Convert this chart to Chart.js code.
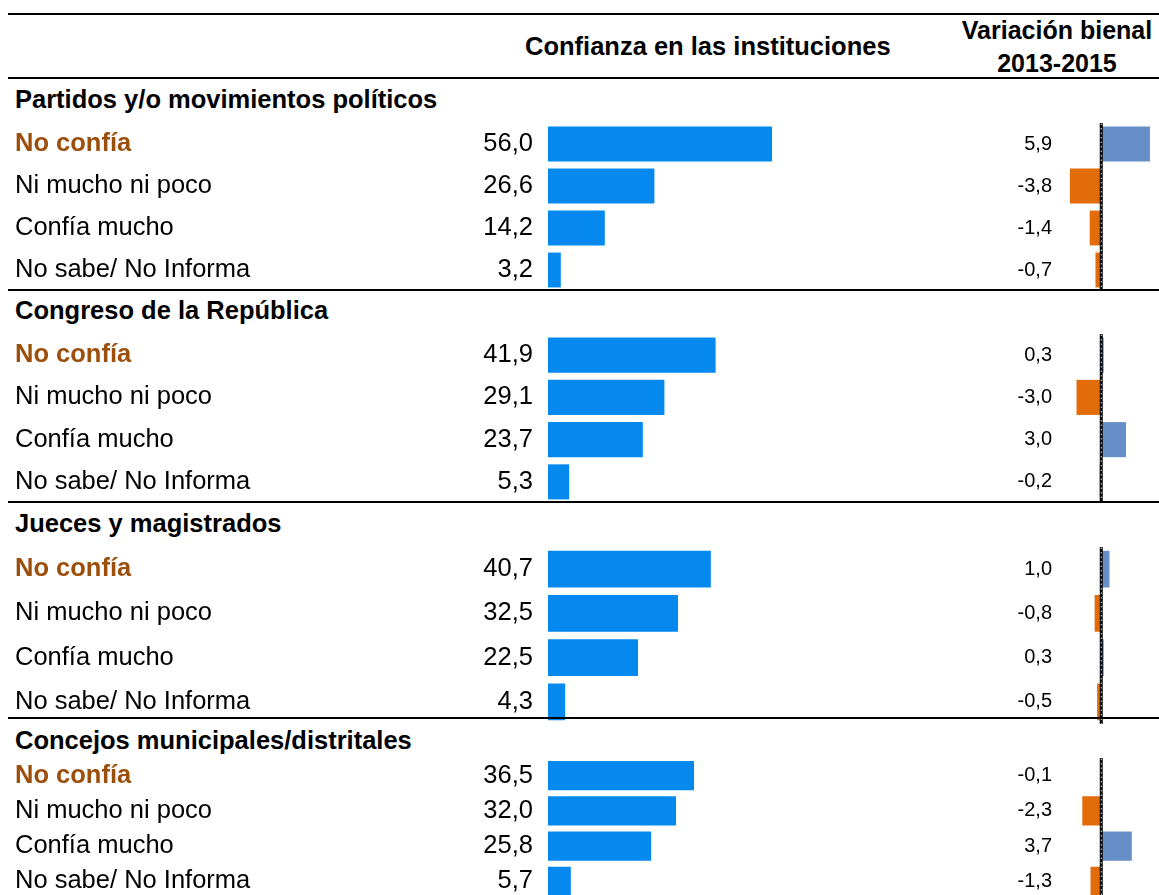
<!DOCTYPE html>
<html lang="es">
<head>
  <meta charset="UTF-8">
  <title>Confianza en las instituciones</title>
  <script src="https://cdn.jsdelivr.net/npm/chart.js"></script>
  <style>
    body { margin: 0; background: #fff; overflow: hidden; }
    #wrap { position: relative; width: 1159px; height: 895px; font-family: "Liberation Sans", Arial, sans-serif; color: #000; }
    .rule { position: absolute; left: 8px; right: 0; height: 2px; background: #000; }
    .txt { position: absolute; white-space: nowrap; line-height: 28px; }
    .grp { font-weight: bold; font-size: 25.5px; left: 15px; }
    canvas { position: absolute; }
  </style>
</head>
<body>
  <div id="wrap">
    <div class="rule" style="top:13px"></div>
    <div class="rule" style="top:77px"></div>
    <div class="txt" style="left:525px;top:32px;font-size:25.5px;font-weight:bold">Confianza en las instituciones</div>
    <div class="txt" style="left:955px;top:14px;width:204px;text-align:center;font-size:25px;font-weight:bold;line-height:33px">Variación bienal<br>2013-2015</div>
  </div>

  <script>
    // Datos
    const categorias = ['No confía', 'Ni mucho ni poco', 'Confía mucho', 'No sabe/ No Informa'];
    const instituciones = ['Partidos y/o movimientos políticos', 'Congreso de la República', 'Jueces y magistrados', 'Concejos municipales/distritales'];

    const confPartidos = [56.0, 26.6, 14.2, 3.2];
    const confCongreso = [41.9, 29.1, 23.7, 5.3];
    const confJueces = [40.7, 32.5, 22.5, 4.3];
    const confConcejos = [36.5, 32.0, 25.8, 5.7];

    const varPartidos = [5.9, -3.8, -1.4, -0.7];
    const varCongreso = [0.3, -3.0, 3.0, -0.2];
    const varJueces = [1.0, -0.8, 0.3, -0.5];
    const varConcejos = [-0.1, -2.3, 3.7, -1.3];

    const confianza = [confPartidos, confCongreso, confJueces, confConcejos];
    const variacion = [varPartidos, varCongreso, varJueces, varConcejos];

    // layout de cada bloque (posición del encabezado y del área de barras)
    const bloques = [
      { header: 85, rule: null, top: 123, height: 168 },
      { header: 296, rule: 289, top: 334, height: 169 },
      { header: 509, rule: 501, top: 547, height: 177 },
      { header: 726, rule: 717, top: 758, height: 141 }
    ];

    Chart.defaults.font.family = '"Liberation Sans", Arial, sans-serif';
    Chart.defaults.color = '#000';

    const fmt = v => v.toFixed(1).replace('.', ',');

    // etiquetas de valor a la izquierda de cada barra
    const valueLabels = {
      id: 'valueLabels',
      afterDatasetsDraw(chart, args, opts) {
        const { ctx, chartArea } = chart;
        const meta = chart.getDatasetMeta(0);
        const data = chart.data.datasets[0].data;
        ctx.save();
        ctx.font = opts.size + 'px "Liberation Sans", Arial, sans-serif';
        ctx.fillStyle = '#000';
        ctx.textAlign = 'right';
        ctx.textBaseline = 'middle';
        meta.data.forEach((bar, i) => {
          ctx.fillText(fmt(data[i]), chartArea.left - opts.gap, bar.y);
        });
        ctx.restore();
      }
    };

    // línea del cero en las variaciones
    const zeroLine = {
      id: 'zeroLine',
      afterDatasetsDraw(chart, args, opts) {
        if (!opts.show) return;
        const { ctx, chartArea, scales } = chart;
        const x = scales.x.getPixelForValue(0);
        ctx.save();
        ctx.strokeStyle = '#000';
        ctx.lineWidth = 3;
        ctx.beginPath();
        ctx.moveTo(x, chartArea.top - 4);
        ctx.lineTo(x, chartArea.bottom);
        ctx.stroke();
        ctx.strokeStyle = '#ddd';
        ctx.lineWidth = 1;
        ctx.setLineDash([1.5, 3]);
        ctx.beginPath();
        ctx.moveTo(x, chartArea.top - 4);
        ctx.lineTo(x, chartArea.bottom);
        ctx.stroke();
        ctx.restore();
      }
    };

    const wrap = document.getElementById('wrap');

    function addCanvas(left, top, w, h) {
      const c = document.createElement('canvas');
      c.width = w; c.height = h;
      c.style.left = left + 'px';
      c.style.top = top + 'px';
      wrap.appendChild(c);
      return c;
    }

    bloques.forEach((b, g) => {
      if (b.rule !== null) {
        const r = document.createElement('div');
        r.className = 'rule';
        r.style.top = b.rule + 'px';
        wrap.appendChild(r);
      }
      const h = document.createElement('div');
      h.className = 'txt grp';
      h.style.top = b.header + 'px';
      h.textContent = instituciones[g];
      wrap.appendChild(h);

      // barras de confianza
      new Chart(addCanvas(0, b.top, 960, b.height), {
        type: 'bar',
        data: {
          labels: categorias,
          datasets: [{
            data: confianza[g],
            backgroundColor: '#0589ee',
            barPercentage: 0.83,
            categoryPercentage: 1
          }]
        },
        options: {
          indexAxis: 'y',
          responsive: false,
          animation: false,
          layout: { padding: { left: 15, right: 12, top: 0, bottom: 0 } },
          plugins: {
            legend: { display: false },
            tooltip: { enabled: false },
            valueLabels: { size: 25.5, gap: 15 },
            zeroLine: { show: false }
          },
          scales: {
            x: { min: 0, max: 100, display: false },
            y: {
              grid: { display: false },
              border: { display: false },
              ticks: {
                crossAlign: 'far',
                padding: 0,
                autoSkip: false,
                color: c => c.index === 0 ? '#9c4f0b' : '#000',
                font: c => ({ size: 25.5, weight: c.index === 0 ? 'bold' : 'normal' })
              },
              afterFit: s => {
                s.width = 533;
                s.paddingTop = 0;
                s.paddingBottom = 0;
              }
            }
          }
        },
        plugins: [valueLabels, zeroLine]
      });

      // barras de variación bienal
      new Chart(addCanvas(960, b.top, 199, b.height), {
        type: 'bar',
        data: {
          labels: categorias,
          datasets: [{
            data: variacion[g],
            backgroundColor: c => c.raw >= 0 ? '#658fc6' : '#e36c0a',
            barPercentage: 0.83,
            categoryPercentage: 1
          }]
        },
        options: {
          indexAxis: 'y',
          responsive: false,
          animation: false,
          layout: { padding: { left: 100, right: 0, top: 0, bottom: 0 } },
          plugins: {
            legend: { display: false },
            tooltip: { enabled: false },
            valueLabels: { size: 20, gap: 8 },
            zeroLine: { show: true }
          },
          scales: {
            x: { min: -5, max: 7, display: false },
            y: { display: false }
          }
        },
        plugins: [valueLabels, zeroLine]
      });
    });
  </script>
</body>
</html>
